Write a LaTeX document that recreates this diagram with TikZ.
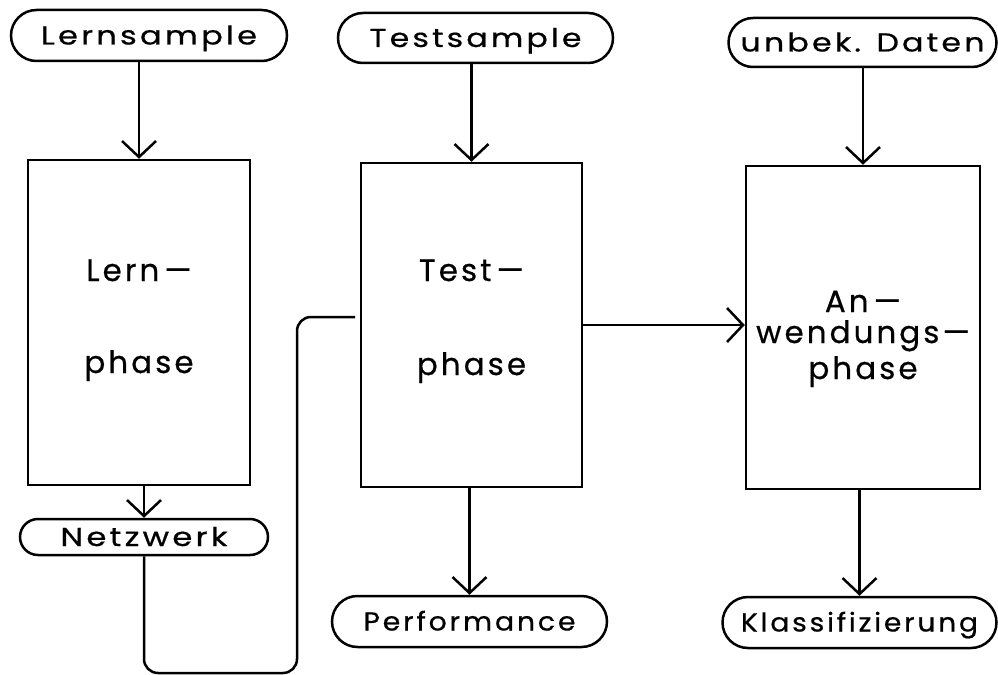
\documentclass[tikz,border=0pt]{standalone}
\usepackage{graphicx}
\usepackage{fontspec}
\setmainfont{Poppins}
\newfontfamily\plotfont[LetterSpace=10, FakeBold=0.6]{Poppins}
\usetikzlibrary{shapes.misc,arrows.meta}
\newcommand{\fitw}[2]{\resizebox{#1}{\height}{#2}}
\tikzset{
  lbl/.style={draw, line width=2.5bp, rounded rectangle, inner sep=0pt,
    text height=18bp, text depth=0pt,
    font=\plotfont\fontsize{26}{30}\selectfont},
  phasebox/.style={draw, line width=2.5bp, rectangle, inner sep=0pt},
  big/.style={font=\plotfont\fontsize{31}{36}\selectfont, anchor=base, inner sep=0pt},
  arr/.style={line width=2.5bp, -{Straight Barb[length=16bp,width=34bp,line width=2.5bp]}},
  conn/.style={line width=2.5bp},
}
\begin{document}
\begin{tikzpicture}[x=1bp,y=-1bp]
\useasboundingbox (0,0) rectangle (998,675);
% label stadiums
\node[lbl, minimum width=276bp, minimum height=51bp] (ls) at (149,35.5) {\fitw{216bp}{Lernsample}};
\node[lbl, minimum width=275bp, minimum height=50bp] (tsm) at (475.5,38) {\fitw{212bp}{Testsample}};
\node[lbl, minimum width=268bp, minimum height=49bp] (ud) at (862.5,42.5) {\fitw{244bp}{unbek. Daten}};
\node[lbl, minimum width=248bp, minimum height=36bp] (nw) at (144,537) {\fitw{167bp}{Netzwerk}};
\node[lbl, minimum width=275bp, minimum height=51bp] (pf) at (469.5,621.5) {\fitw{212bp}{Performance}};
\node[lbl, minimum width=274bp, minimum height=51bp] (kl) at (859.5,622.5) {\fitw{237bp}{Klassifizierung}};
% phase boxes
\node[phasebox, minimum width=222bp, minimum height=325bp] (lern) at (139,322.5) {};
\node[phasebox, minimum width=221bp, minimum height=324bp] (test) at (471.5,325) {};
\node[phasebox, minimum width=234bp, minimum height=323bp] (anw) at (863,327.5) {};
% phase texts
\node[big] (lt1) at (139,281) {Lern\,—};
\node[big] (lt2) at (139,373) {phase};
\node[big] (tt1) at (471.5,281) {Test\,—};
\node[big] (tt2) at (471.5,375) {phase};
\node[big] (at1) at (863,312) {An\,—};
\node[big] (at2) at (863,343) {wendungs—};
\node[big] (at3) at (863,379) {phase};
% connectors
\draw[arr] (ls.south -| lern.north) -- (lern.north);
\draw[arr] (tsm.south -| test.north) -- (test.north);
\draw[arr] (ud.south -| anw.north) -- (anw.north);
\draw[arr] (lern.south -| nw.north) -- (nw.north);
\draw[arr] (test.south -| pf.north) -- (pf.north);
\draw[arr] (anw.south -| kl.north) -- (kl.north);
\draw[arr] (test.east) -- (test.east -| anw.west);
\coordinate (u1) at (297,673);
\coordinate (u2) at (297,317);
\coordinate (u3) at (355,317);
\draw[conn, rounded corners=14bp] (nw.south) |- (u1) -- (u2) -- (u3);
\end{tikzpicture}
\end{document}
